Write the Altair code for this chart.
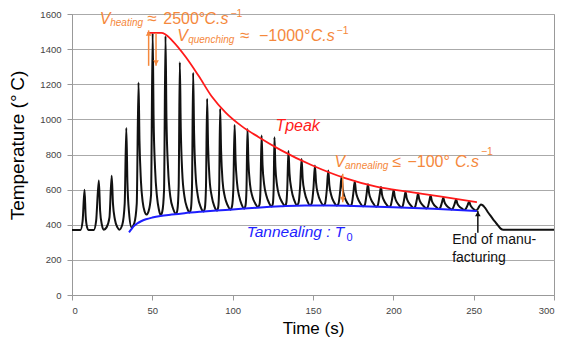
import altair as alt
import pandas as pd

# ---- measured temperature trace (black) ----
trace_time = [
    0, 5.3, 6.6, 7.8, 8.5, 9.4, 10.2, 13.6, 15.0, 16.7, 17.5, 18.6, 19.8, 21.5, 23.3, 24.7,
    25.5, 26.7, 28.3, 29.4, 31.3, 32.8, 33.8, 34.5, 35.5, 37.0, 38.8, 40.3, 41.4,
    42.0, 42.9, 44.0, 45.2, 46.3, 47.6, 49.2, 50.2,
    50.8, 51.7, 52.9, 54.1, 55.2, 56.2, 57.3, 58.2,
    58.8, 59.8, 61.2, 63.0, 64.8, 65.6, 66.4, 67.1,
    67.7, 68.6, 70.0, 71.7, 73.2, 74.0, 74.7, 75.4,
    76.0, 76.9, 78.3, 80.1, 81.9, 82.7, 83.4, 84.1,
    84.7, 85.6, 87.0, 88.6, 90.2, 91.0, 91.6, 92.2,
    92.8, 93.7, 95.1, 96.9, 98.7, 99.6, 100.4, 101.2,
    101.8, 102.7, 104.1, 105.6, 107.1, 108.0, 108.6, 109.2,
    109.8, 110.8, 112.3, 114.1, 115.8, 116.7, 117.3, 118.0,
    118.6, 119.6, 121.0, 122.6, 124.2, 125.0, 125.5, 126.0,
    126.6, 127.6, 129.0, 130.8, 132.6, 133.4, 134.0, 134.7,
    135.4, 136.6, 138.3, 140.0, 141.0, 142.0, 142.9,
    143.6, 144.8, 146.5, 148.2, 149.2, 150.3, 151.2,
    151.9, 153.1, 154.8, 156.5, 157.5, 158.6, 159.5,
    160.2, 161.4, 163.1, 164.8, 165.8, 166.9, 167.8,
    168.5, 169.7, 171.4, 173.0, 174.0, 175.1, 176.0,
    176.7, 177.9, 179.6, 181.2, 182.2, 183.3, 184.2,
    184.9, 186.1, 187.8, 189.3, 190.3, 191.4, 192.3,
    193.0, 194.2, 195.8, 197.3, 198.3, 199.4, 200.2,
    200.9, 202.0, 203.5, 204.9, 205.8, 206.8, 207.6,
    208.3, 209.5, 211.1, 212.7, 213.6, 214.6, 215.4,
    216.1, 217.3, 218.9, 220.5, 221.4, 222.4, 223.2,
    223.9, 225.1, 226.7, 228.3, 229.2, 230.3, 231.1,
    231.8, 233.0, 234.6, 236.2, 237.1, 238.2, 239.1,
    239.8, 241.0, 242.6, 244.2, 245.1, 246.3, 247.2,
    247.9, 249.0, 250.3, 251.5, 252.4, 253.5, 254.5,
    255.5, 257.0, 259.0, 261.0, 263.0, 265.0, 266.8, 268.5, 300,
]
trace_temp = [
    370, 370, 420, 600, 450, 385, 370, 370, 420, 652, 480, 400, 372, 385, 440, 679,
    520, 430, 385, 372, 400, 520, 951, 640, 470, 385, 410, 520, 1210,
    880, 650, 530, 475, 458, 475, 570, 1490,
    1000, 720, 560, 485, 455, 475, 600, 1475,
    1000, 720, 560, 490, 462, 485, 620, 1325,
    950, 700, 560, 495, 470, 490, 620, 1265,
    920, 690, 565, 500, 476, 495, 620, 1118,
    850, 665, 560, 505, 481, 500, 610, 1060,
    820, 650, 560, 510, 486, 505, 600, 968,
    770, 640, 560, 515, 492, 510, 600, 945,
    760, 630, 560, 520, 500, 515, 600, 908,
    740, 630, 565, 525, 504, 520, 600, 898,
    730, 625, 565, 528, 508, 525, 610, 820,
    690, 600, 540, 512, 525, 620, 775,
    660, 585, 535, 511, 522, 610, 738,
    640, 575, 532, 511, 520, 600, 709,
    625, 567, 528, 509, 518, 590, 675,
    605, 558, 524, 507, 515, 580, 648,
    590, 550, 520, 505, 512, 570, 630,
    580, 545, 517, 503, 510, 565, 615,
    570, 538, 514, 501, 508, 555, 598,
    560, 532, 512, 499, 506, 548, 588,
    553, 527, 508, 496, 503, 542, 578,
    546, 522, 505, 493, 500, 535, 566,
    538, 516, 501, 490, 497, 528, 555,
    530, 510, 497, 487, 494, 520, 545,
    522, 505, 493, 484, 490, 513, 533,
    513, 498, 487, 481, 488, 505, 515,
    512, 497, 470, 445, 420, 398, 378, 371, 371,
]
assert len(trace_time) == len(trace_temp)

# ---- Tpeak envelope (red) ----
tpeak_time = [47, 55.5, 58, 62.5, 70.8, 79, 87, 95.5, 105.8, 116, 130, 149, 170, 190, 209, 230, 252]
tpeak_temp = [1492, 1492, 1485, 1447, 1355, 1245, 1130, 1040, 960, 900, 825, 740, 665, 615, 588, 560, 528]

# ---- Tannealing envelope (blue) ----
tanneal_time = [35.5, 37, 38.5, 40.5, 43, 46, 50, 55, 62, 70, 80, 90, 100, 115, 130, 145, 160, 180, 200, 225, 252]
tanneal_temp = [357, 375, 392, 407, 420, 431, 441, 450, 458, 466, 474, 481, 487, 497, 505, 510, 510, 506, 500, 491, 478]

x_ticks = [0, 50, 100, 150, 200, 250, 300]
y_ticks = [0, 200, 400, 600, 800, 1000, 1200, 1400, 1600]

FONT = "Liberation Sans"
ORANGE = "#f5883c"
RED = "#ff1a1a"
BLUE = "#1e1eff"

xs = alt.Scale(domain=[0, 300], nice=False, zero=False)
ys = alt.Scale(domain=[0, 1600], nice=False)
xaxis = alt.Axis(values=x_ticks, title="Time (s)", grid=False, tickSize=5, format="d",
                 labelPadding=5, titlePadding=6, labelFontSize=9.5, titleFontSize=17)
yaxis = alt.Axis(values=y_ticks, title="Temperature (°\u2009C)", grid=True, tickSize=5, format="d",
                 labelPadding=6, titlePadding=12, labelFontSize=9.5, titleFontSize=19, titleY=131)


def X():
    return alt.X("t:Q", scale=xs, axis=xaxis)


def Y():
    return alt.Y("T:Q", scale=ys, axis=yaxis)


def line(times, temps, color, width):
    df = pd.DataFrame({"t": times, "T": temps})
    return alt.Chart(df).mark_line(color=color, strokeWidth=width, interpolate="monotone").encode(x=X(), y=Y())


def label(text, t, T, size, color, italic=False):
    df = pd.DataFrame({"t": [t], "T": [T], "s": [text]})
    return alt.Chart(df).mark_text(
        align="left", baseline="middle", font=FONT, fontSize=size,
        fontStyle="italic" if italic else "normal", color=color
    ).encode(x=X(), y=Y(), text="s:N")


def arrow(t, T_from, T_to, color, width=1.5):
    df = pd.DataFrame({"t": [t], "T": [T_from], "T2": [T_to]})
    shaft = alt.Chart(df).mark_rule(color=color, strokeWidth=width).encode(x=X(), y=Y(), y2="T2:Q")
    up = T_to > T_from
    head = alt.Chart(pd.DataFrame({"t": [t], "T": [T_to]})).mark_point(
        shape="triangle-up" if up else "triangle-down", filled=True, size=32,
        color=color, opacity=1, yOffset=3 if up else -3
    ).encode(x=X(), y=Y())
    return [shaft, head]


layers = [
    line(trace_time, trace_temp, "#111111", 2),
    line(tpeak_time, tpeak_temp, RED, 1.8),
    line(tanneal_time, tanneal_temp, BLUE, 2),
]
layers += arrow(47.7, 1305, 1507, ORANGE)
layers += arrow(52.3, 1492, 1305, ORANGE)
layers += arrow(168.5, 690, 528, ORANGE)
layers += arrow(252.6, 355, 480, "#111111")

layers += [
    # V_heating ≈ 2500°C.s^-1
    label("V", 17.3, 1569, 16, ORANGE, True),
    label("heating", 23.8, 1546, 10, ORANGE, True),
    label("≈", 46.9, 1569, 17, ORANGE),
    label("2500°", 56.8, 1569, 16, ORANGE),
    label("C.s", 82.5, 1569, 16, ORANGE, True),
    label("−1", 98.6, 1600, 10.5, ORANGE),
    # V_quenching ≈ −1000°C.s^-1
    label("V", 65.5, 1475, 16, ORANGE, True),
    label("quenching", 72.3, 1452, 10, ORANGE, True),
    label("≈", 104.5, 1475, 17, ORANGE),
    label("−1000°", 116.4, 1475, 16, ORANGE),
    label("C.s", 148.6, 1475, 16, ORANGE, True),
    label("−1", 164.7, 1506, 10.5, ORANGE),
    # V_annealing ≤ −100°C.s^-1
    label("V", 163.4, 757, 16, ORANGE, True),
    label("annealing", 169.9, 732, 10, ORANGE, True),
    label("≤", 199.5, 757, 16, ORANGE),
    label("−100°", 208.8, 757, 16, ORANGE),
    label("C.s", 238.4, 757, 16, ORANGE, True),
    label("−1", 254.5, 812, 10.5, ORANGE),
    # envelopes
    label("Tpeak", 126.6, 965, 16, RED, True),
    label("Tannealing : T", 108.7, 357, 15.5, BLUE, True),
    label("0", 170.9, 327, 11, BLUE),
    # end of manufacturing
    label("End of manu-", 236.6, 312, 14, "#111111"),
    label("facturing", 236.6, 210, 14, "#111111"),
]

chart = alt.layer(*layers).properties(
    width=482, height=281,
    autosize=alt.AutoSizeParams(type="none"),
    padding={"left": 64, "top": 6, "right": 5, "bottom": 43},
).configure_axis(
    labelFont=FONT, titleFont=FONT, labelColor="#444444", titleColor="#000000",
    titleFontWeight="normal", domainColor="#999999", tickColor="#999999",
    gridColor="#aaaaaa", gridWidth=1,
).configure_view(stroke="#999999", strokeWidth=1)

chart.save("out.html", embed_options={"renderer": "svg", "actions": False})
